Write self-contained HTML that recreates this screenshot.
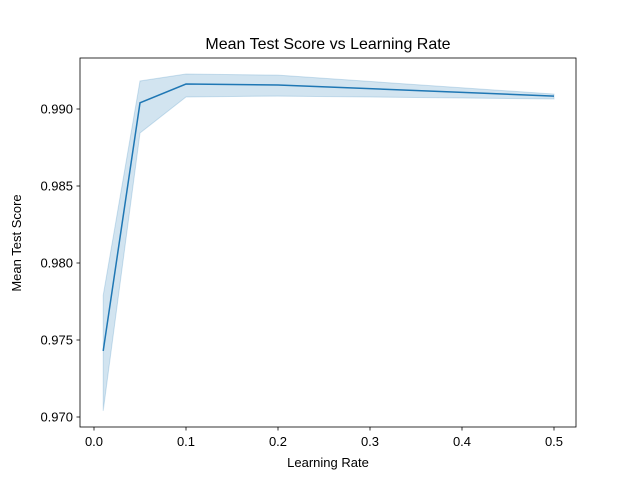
<!DOCTYPE html>
<html><head><meta charset="utf-8"><style>
body{margin:0;background:#fff}
svg{display:block;font-family:"Liberation Sans","DejaVu Sans",sans-serif}
</style></head><body>
<svg id="chart" width="640" height="480" viewBox="0 0 640 480">
<rect width="640" height="480" fill="#fff"/>
<text x="328" y="49" font-size="16" text-anchor="middle">Mean Test Score vs Learning Rate</text>
<text x="328" y="467" font-size="13" text-anchor="middle">Learning Rate</text>
<text transform="translate(21,243) rotate(-90)" font-size="13" text-anchor="middle">Mean Test Score</text>
<g id="plot"></g>
<rect x="80" y="58" width="496" height="369" fill="none" stroke="#000" stroke-width="0.8"/>
</svg>
<script>
const rates=[0.01,0.05,0.1,0.2,0.5];
const meanScores=[0.97429,0.9904,0.99162,0.99156,0.99084];
const upperScores=[0.9779,0.99182,0.99227,0.9922,0.99097];
const lowerScores=[0.9704,0.98844,0.99078,0.99084,0.99065];
const xTicks=[0,0.1,0.2,0.3,0.4,0.5];
const xTickLabels=["0.0","0.1","0.2","0.3","0.4","0.5"];
const yTicks=[0.970,0.975,0.980,0.985,0.990];
const yTickLabels=["0.970","0.975","0.980","0.985","0.990"];
const X=v=>94+v*920;
const Y=v=>109-(v-0.990)*15400;
const g=document.getElementById('plot');
const NS='http://www.w3.org/2000/svg';
function mk(t,a){const e=document.createElementNS(NS,t);for(const k in a)e.setAttribute(k,a[k]);g.appendChild(e);return e;}
xTicks.forEach((v,i)=>{
 const l=mk('line',{x1:X(v),x2:X(v),y1:427,y2:430.5,stroke:'#000','stroke-width':0.8});
 
 
 const t=mk('text',{x:X(v),y:446,'font-size':13,'text-anchor':'middle'});t.textContent=xTickLabels[i];
 
 
});
yTicks.forEach((v,i)=>{
 const l=mk('line',{x1:76.5,x2:80,y1:Y(v),y2:Y(v),stroke:'#000','stroke-width':0.8});
 
 
 const t=mk('text',{x:73,y:Y(v)+4.5,'font-size':13,'text-anchor':'end'});t.textContent=yTickLabels[i];
 
 
});
let up=rates.map((r,i)=>X(r)+','+Y(upperScores[i]));
let lo=rates.map((r,i)=>X(r)+','+Y(lowerScores[i])).reverse();
const band=mk('polygon',{points:up.concat(lo).join(' '),fill:'#1f77b4','fill-opacity':0.2,stroke:'#1f77b4','stroke-opacity':0.2});


const line=mk('polyline',{points:rates.map((r,i)=>X(r)+','+Y(meanScores[i])).join(' '),fill:'none',stroke:'#1f77b4','stroke-width':1.5});


</script>
</body></html>
